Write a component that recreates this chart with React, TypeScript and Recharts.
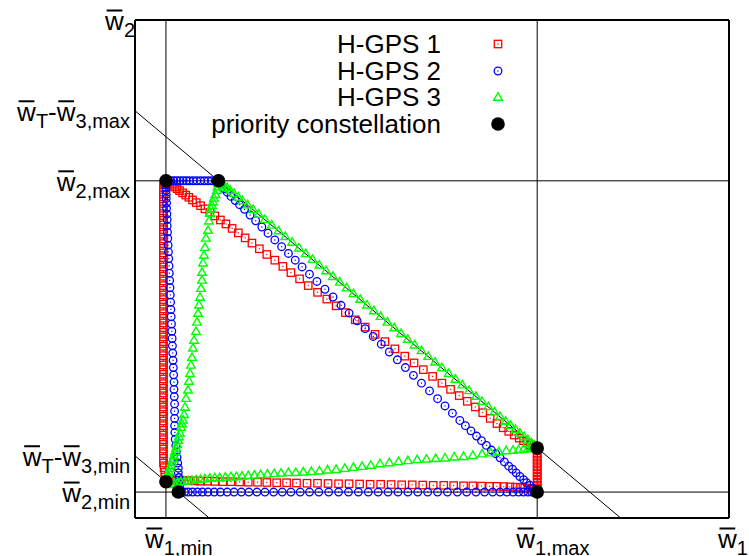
import React from 'react';
import { ScatterChart, Scatter, XAxis, YAxis, ReferenceLine, Legend } from 'recharts';

type Pt = [number, number];

const FONT = '"Liberation Sans", Arial, sans-serif';
const RED = '#ff0000';
const BLUE = '#0000ff';
const GREEN = '#00ff00';

const seriesNames = ['H-GPS 1', 'H-GPS 2', 'H-GPS 3', 'priority constellation'];

// axis ticks (gnuplot enhanced-text style labels, every w gets a bar)
const xTicks = [5, 65, 96];
const xTickLabels = ['w_{1,min}', 'w_{1,max}', 'w_1'];
const yTicks = [5, 12, 65, 78.5, 96];
const yTickLabels = ['w_{2,min}', 'w_T-w_{3,min}', 'w_{2,max}', 'w_T-w_{3,max}', 'w_2'];

// box limits and the two sum constraints
const w1Min = 5;
const w1Max = 65;
const w2Min = 5;
const w2Max = 65;
const sumLow = 12;
const sumHigh = 78.5;

// priority constellation corners
const priorityX = [5, 13.5, 65, 65, 7, 5];
const priorityY = [65, 65, 13.5, 5, 5, 7];

// H-GPS 1 (red squares)
const gps1Diagonal: Pt[] = [
  [5, 65], [5.3, 64.74], [5.6, 64.49], [6, 64.14], [6.4, 63.8], [6.8, 63.46], [7.2, 63.11], [7.7, 62.68],
  [8.2, 62.25], [8.7, 61.83], [9.3, 61.31], [9.9, 60.8], [10.6, 60.2], [11.3, 59.59], [12.1, 58.91],
  [12.9, 58.22], [13.8, 57.45], [14.7, 56.68], [15.7, 55.82], [16.7, 54.96], [17.8, 54.0], [18.9, 53.0],
  [20.1, 51.9], [21.3, 50.8], [22.6, 49.7], [23.9, 48.5], [25.2, 47.3], [26.6, 46.1], [28.0, 44.8],
  [29.5, 43.5], [31.0, 42.2], [32.5, 40.9], [34.0, 39.6], [35.6, 38.2], [37.2, 36.8], [38.8, 35.4],
  [40.4, 34.0], [42.0, 32.6], [43.6, 31.2], [45.1, 29.9], [46.6, 28.6], [48.1, 27.3], [49.6, 26.0],
  [51.0, 24.8], [52.4, 23.6], [53.7, 22.5], [55.0, 21.4], [56.2, 20.3], [57.4, 19.2], [58.5, 18.2],
  [59.5, 17.4], [60.4, 16.7], [61.3, 16.0], [62.1, 15.4], [62.8, 14.9], [63.4, 14.5], [63.9, 14.1],
  [64.3, 13.9], [64.6, 13.7], [64.8, 13.6],
];
const gps1Right: Pt[] = [
  [65, 13.5], [65, 12.9], [65, 12.3], [65, 11.7], [65, 11.1], [65, 10.5], [65, 9.9], [65, 9.3],
  [65, 8.7], [65, 8.1], [65, 7.5], [65, 6.9], [65, 6.3], [65, 5.7], [65, 5.2],
];
const gps1Bottom: Pt[] = [
  [64.8, 5.3], [64.5, 5.5], [64.1, 5.6], [63.6, 5.7], [63.0, 5.8], [62.3, 5.9], [61.5, 5.95], [60.6, 6.0],
  [59.6, 6.05], [58.5, 6.1], [57.3, 6.1], [56.0, 6.15], [54.6, 6.2], [53.1, 6.2], [51.5, 6.25], [49.9, 6.3],
  [48.2, 6.3], [46.5, 6.35], [44.8, 6.4], [43.1, 6.4], [41.4, 6.45], [39.7, 6.5], [38.0, 6.5], [36.3, 6.55],
  [34.6, 6.6], [32.9, 6.6], [31.2, 6.65], [29.5, 6.7], [27.8, 6.7], [26.1, 6.75], [24.5, 6.8], [22.9, 6.8],
  [21.3, 6.85], [19.8, 6.9], [18.3, 6.9], [16.9, 6.95], [15.5, 7.0], [14.2, 7.0], [12.9, 7.05], [11.7, 7.1],
  [10.6, 7.1], [9.6, 7.15], [8.7, 7.2], [7.9, 7.2], [7.2, 7.25], [6.6, 7.3], [6.1, 7.3], [5.7, 7.35], [5.4, 7.4],
];
const gps1Left: Pt[] = [
  [4.9, 7.9], [4.8, 8.8], [4.7, 9.7], [4.6, 10.6], [4.6, 11.5], [4.6, 12.4], [4.6, 13.3], [4.6, 14.2],
  [4.6, 15.1], [4.6, 16.0], [4.6, 16.9], [4.6, 17.8], [4.6, 18.7], [4.6, 19.6], [4.6, 20.5], [4.6, 21.4],
  [4.6, 22.3], [4.6, 23.2], [4.6, 24.1], [4.6, 25.0], [4.6, 25.9], [4.6, 26.8], [4.6, 27.7], [4.6, 28.6],
  [4.6, 29.5], [4.6, 30.4], [4.6, 31.3], [4.6, 32.2], [4.6, 33.1], [4.6, 34.0], [4.6, 34.9], [4.6, 35.8],
  [4.6, 36.7], [4.6, 37.6], [4.6, 38.5], [4.6, 39.4], [4.6, 40.3], [4.6, 41.2], [4.6, 42.1], [4.6, 43.0],
  [4.6, 43.9], [4.6, 44.8], [4.6, 45.7], [4.6, 46.6], [4.6, 47.5], [4.6, 48.4], [4.6, 49.3], [4.6, 50.2],
  [4.6, 51.1], [4.6, 52.0], [4.6, 52.9], [4.6, 53.8], [4.6, 54.7], [4.6, 55.6], [4.6, 56.5], [4.6, 57.4],
  [4.6, 58.3], [4.6, 59.2], [4.6, 60.1], [4.6, 61.0], [4.6, 61.9], [4.6, 62.8], [4.6, 63.7], [4.7, 64.5],
];

// H-GPS 2 (blue circles)
const gps2Top: Pt[] = [
  [5, 65], [5.4, 65], [5.8, 65], [6.3, 65], [6.8, 65], [7.3, 65], [7.8, 65], [8.3, 65], [8.8, 65],
  [9.4, 65], [10, 65], [10.6, 65], [11.2, 65], [11.8, 65], [12.4, 65], [13, 65], [13.5, 65],
];
const gps2Diagonal: Pt[] = [
  [13.9, 64.3], [14.4, 63.5], [14.9, 62.8], [15.5, 62.0], [16.2, 61.2], [16.9, 60.4], [17.7, 59.5],
  [18.6, 58.4], [19.5, 57.3], [20.5, 56.1], [21.5, 54.9], [22.6, 53.6], [23.7, 52.3], [24.8, 51.0],
  [25.9, 49.7], [27.0, 48.4], [28.2, 47.0], [29.4, 45.6], [30.7, 44.1], [32.0, 42.6], [33.3, 41.0],
  [34.6, 39.5], [35.9, 38.0], [37.2, 36.5], [38.5, 35.0], [39.8, 33.5], [41.1, 32.0], [42.4, 30.5],
  [43.7, 29.0], [45.0, 27.5], [46.3, 26.0], [47.6, 24.5], [48.9, 23.0], [50.1, 21.6], [51.3, 20.2],
  [52.5, 18.8], [53.4, 17.8], [54.3, 16.8], [55.2, 15.8], [56.0, 14.9], [56.8, 14.0], [57.6, 13.1],
  [58.3, 12.4], [59.0, 11.6], [59.7, 10.8], [60.4, 10.0], [61.0, 9.4], [61.6, 8.7], [62.2, 8.0],
  [62.8, 7.4], [63.3, 6.8], [63.8, 6.3], [64.3, 5.7], [64.7, 5.3],
];
const gps2Bottom: Pt[] = [
  [65, 5], [64.6, 5], [64.1, 5], [63.5, 5], [62.8, 5], [62.0, 5], [61.1, 5], [60.1, 5], [59.0, 5], [57.8, 5],
  [56.5, 5], [55.1, 5], [53.6, 5], [52.1, 5], [50.5, 5], [48.9, 5], [47.3, 5], [45.7, 5], [44.1, 5],
  [42.5, 5], [40.9, 5], [39.3, 5], [37.7, 5], [36.1, 5], [34.5, 5], [32.9, 5], [31.3, 5], [29.7, 5],
  [28.2, 5], [26.7, 5], [25.2, 5], [23.8, 5], [22.4, 5], [21.0, 5], [19.7, 5], [18.4, 5], [17.2, 5],
  [16.0, 5], [14.9, 5], [13.8, 5], [12.8, 5], [11.8, 5], [10.9, 5], [10.1, 5], [9.3, 5], [8.6, 5],
  [8.0, 5], [7.5, 5],
];
const gps2Left: Pt[] = [
  [7.2, 5.5], [7.2, 6.2], [7.1, 7.0], [7.1, 7.8], [7.0, 8.7], [7.0, 9.6], [6.9, 10.6], [6.8, 11.7],
  [6.7, 12.8], [6.6, 14.0], [6.5, 15.2], [6.45, 16.5], [6.4, 17.8], [6.4, 19.2], [6.4, 20.6], [6.4, 22.0],
  [6.35, 23.4], [6.3, 24.8], [6.3, 26.2], [6.25, 27.6], [6.2, 29.0], [6.15, 30.4], [6.1, 31.8],
  [6.05, 33.2], [6.0, 34.6], [5.95, 36.0], [5.9, 37.4], [5.85, 38.8], [5.8, 40.2], [5.75, 41.6],
  [5.7, 43.0], [5.65, 44.4], [5.6, 45.8], [5.55, 47.2], [5.5, 48.6], [5.45, 50.0], [5.4, 51.3],
  [5.35, 52.6], [5.3, 53.9], [5.25, 55.1], [5.2, 56.3], [5.2, 57.5], [5.15, 58.6], [5.1, 59.7],
  [5.1, 60.7], [5.05, 61.6], [5.05, 62.4], [5.0, 63.1], [5.0, 63.7], [5.0, 64.2], [5.0, 64.6],
];

// H-GPS 3 (green triangles)
const gps3Curve: Pt[] = [
  [13.5, 65], [13.45, 64.5], [13.35, 63.9], [13.25, 63.2], [13.0, 62.4], [12.77, 61.7], [12.6, 61.0],
  [12.44, 60.3], [12.3, 59.6], [12.12, 58.8], [11.96, 57.3], [11.8, 55.5], [11.47, 54.0], [11.31, 52.2],
  [11.15, 50.7], [10.99, 49.2], [10.83, 47.4], [10.83, 45.9], [10.67, 44.3], [10.51, 42.6], [10.34, 41.1],
  [10.18, 39.5], [10.02, 37.8], [9.86, 36.0], [9.54, 34.3], [9.37, 32.8], [9.21, 31.0], [9.05, 29.5],
  [8.89, 27.9], [8.73, 26.4], [8.57, 24.7], [8.24, 23.1], [8.08, 21.4], [7.92, 20.0], [7.76, 18.9],
  [7.6, 18.2], [7.43, 17.5], [7.27, 16.4], [7.1, 15.7], [6.95, 15.0], [6.8, 14.2], [6.63, 13.5],
  [6.46, 12.8], [6.3, 12.1], [6.14, 11.4], [5.98, 10.8], [5.82, 10.2], [5.66, 9.6], [5.5, 9.0],
  [5.33, 8.5], [5.25, 8.1], [5.17, 7.7], [5.1, 7.3],
];
const gps3Bottom: Pt[] = [
  [6.0, 6.5], [6.4, 6.7], [6.9, 6.9], [7.4, 7.0], [8.0, 7.1], [8.6, 7.2], [9.2, 7.3], [9.9, 7.4],
  [10.6, 7.5], [11.3, 7.6], [12.1, 7.7], [12.9, 7.8], [13.7, 7.8], [14.6, 7.9], [15.5, 8.0], [16.4, 8.0],
  [17.3, 8.1], [18.3, 8.2], [19.3, 8.3], [20.3, 8.4], [21.4, 8.5], [22.5, 8.6], [23.6, 8.7], [24.8, 8.8],
  [26.0, 8.8], [27.2, 8.9], [28.5, 9.0], [29.8, 9.1], [31.1, 9.3], [32.5, 9.4], [33.9, 9.6], [35.3, 9.8],
  [36.7, 10.0], [38.1, 10.2], [39.6, 10.5], [41.1, 10.7], [42.6, 10.9], [44.1, 11.1], [45.6, 11.3],
  [47.1, 11.4], [48.6, 11.5], [50.1, 11.6], [51.6, 11.8], [53.1, 11.9], [54.6, 12.1], [56.1, 12.4],
  [57.5, 12.6], [58.8, 12.8], [60.0, 13.0], [61.1, 13.1], [62.0, 13.2], [62.8, 13.3], [63.5, 13.4],
  [64.1, 13.5], [64.6, 13.6],
];
const gps3Diagonal: Pt[] = [
  [64.6, 14.0], [64.1, 14.5], [63.5, 15.1], [62.9, 15.7], [62.2, 16.4], [61.5, 17.1], [60.7, 17.9],
  [59.9, 18.7], [59.0, 19.6], [58.1, 20.5], [57.1, 21.5], [56.1, 22.5], [55.1, 23.5], [54.0, 24.6],
  [52.9, 25.7], [51.8, 26.8], [50.7, 27.9], [49.6, 29.0], [48.5, 30.1], [47.4, 31.2], [46.3, 32.3],
  [45.2, 33.4], [44.1, 34.5], [43.0, 35.6], [41.9, 36.7], [40.8, 37.8], [39.7, 38.9], [38.6, 40.0],
  [37.5, 41.1], [36.4, 42.2], [35.3, 43.3], [34.2, 44.4], [33.1, 45.5], [32.0, 46.6], [30.9, 47.7],
  [29.8, 48.8], [28.7, 49.9], [27.6, 51.0], [26.5, 52.1], [25.4, 53.2], [24.3, 54.3], [23.2, 55.4],
  [22.1, 56.5], [21.0, 57.6], [20.0, 58.6], [19.1, 59.5], [18.2, 60.4], [17.4, 61.2], [16.7, 61.9],
  [16.0, 62.6], [15.4, 63.2], [14.9, 63.7], [14.4, 64.2], [14.0, 64.6],
];

const toPoints = (...segs: Pt[][]) => segs.flat().map(([x, y]) => ({ x, y }));

const gps1Data = toPoints(gps1Diagonal, gps1Right, gps1Bottom, gps1Left);
const gps2Data = toPoints(gps2Top, gps2Diagonal, gps2Bottom, gps2Left);
const gps3Data = toPoints(gps3Curve, gps3Bottom, gps3Diagonal);
const priorityData = priorityX.map((x, i) => ({ x, y: priorityY[i] }));

const AXIS_MAX = 96;

// --- markers ---
const drawMarker = (kind: number, cx: number, cy: number) => {
  if (kind === 0) {
    return (
      <g>
        <rect x={cx - 3.7} y={cy - 3.7} width={7.4} height={7.4} fill="none" stroke={RED} strokeWidth={1.3} />
        <rect x={cx - 0.6} y={cy - 0.6} width={1.2} height={1.2} fill={RED} />
      </g>
    );
  }
  if (kind === 1) {
    return (
      <g>
        <circle cx={cx} cy={cy} r={3.8} fill="none" stroke={BLUE} strokeWidth={1.3} />
        <rect x={cx - 0.6} y={cy - 0.6} width={1.2} height={1.2} fill={BLUE} />
      </g>
    );
  }
  if (kind === 2) {
    return (
      <polygon
        points={`${cx},${cy - 4.3} ${cx + 4.3},${cy + 3.2} ${cx - 4.3},${cy + 3.2}`}
        fill="none"
        stroke={GREEN}
        strokeWidth={1.4}
      />
    );
  }
  return <circle cx={cx} cy={cy} r={6.8} fill="#000" />;
};

// --- tick labels ---
const MAIN = 26;
const SUB = 20;
const CHAR_W: Record<string, number> = {
  w: 0.722, T: 0.611, '-': 0.333, '1': 0.556, '2': 0.556, '3': 0.556,
  ',': 0.278, m: 0.833, a: 0.556, x: 0.5, i: 0.222, n: 0.556,
};

interface Part { t: string; sub?: boolean; bar?: boolean }

const parseLabel = (s: string): Part[] => {
  const parts: Part[] = [];
  let i = 0;
  while (i < s.length) {
    const c = s[i];
    if (c === '_') {
      if (s[i + 1] === '{') {
        const j = s.indexOf('}', i);
        parts.push({ t: s.slice(i + 2, j), sub: true });
        i = j + 1;
      } else {
        parts.push({ t: s[i + 1], sub: true });
        i += 2;
      }
    } else if (c === 'w') {
      parts.push({ t: 'w', bar: true });
      i++;
    } else {
      parts.push({ t: c });
      i++;
    }
  }
  return parts;
};

const textWidth = (p: Part) =>
  p.t.split('').reduce((s, c) => s + (CHAR_W[c] ?? 0.556), 0) * (p.sub ? SUB : MAIN);

const LabelParts = ({ parts, x, baseline }: { parts: Part[]; x: number; baseline: number }) => {
  let cx = x;
  return (
    <g fontFamily={FONT} fill="#000">
      {parts.map((p, i) => {
        const w = textWidth(p);
        const left = cx;
        cx += w;
        return (
          <g key={i}>
            <text x={left} y={baseline + (p.sub ? 7 : 0)} fontSize={p.sub ? SUB : MAIN} textAnchor="start">
              {p.t}
            </text>
            {p.bar && (
              <line x1={left + 1.5} x2={left + w - 1.5} y1={baseline - 19.5} y2={baseline - 19.5} stroke="#000" strokeWidth={2} />
            )}
          </g>
        );
      })}
    </g>
  );
};

const YTick = (props: any) => {
  const { x, y, payload } = props;
  const idx = yTicks.indexOf(payload.value);
  if (idx < 0) return null;
  const parts = parseLabel(yTickLabels[idx]);
  const total = parts.reduce((s, p) => s + textWidth(p), 0);
  const right = idx === yTicks.length - 1 ? x + 5 : x;
  return <LabelParts parts={parts} x={right - total} baseline={y + 10} />;
};

const XTick = (props: any) => {
  const { x, y, payload } = props;
  const idx = xTicks.indexOf(payload.value);
  if (idx < 0) return null;
  const parts = parseLabel(xTickLabels[idx]);
  const left = idx === xTicks.length - 1 ? x - 11 : x - 21;
  return <LabelParts parts={parts} x={left} baseline={y + 30} />;
};

const LegendContent = () => (
  <div style={{ fontFamily: FONT, fontSize: MAIN, color: '#000' }}>
    {seriesNames.map((name, i) => (
      <div key={name} style={{ position: 'relative', height: 26.5, lineHeight: '26.5px' }}>
        <span style={{ position: 'absolute', right: 79, whiteSpace: 'nowrap' }}>{name}</span>
        <svg style={{ position: 'absolute', left: 298, top: 3 }} width={20} height={20}>
          {drawMarker(i, 10, 10)}
        </svg>
      </div>
    ))}
  </div>
);

export default function App() {
  return (
    <div style={{ position: 'absolute', left: 0, top: 0, width: 749, height: 556, background: '#fff', fontFamily: FONT }}>
      <ScatterChart width={749} height={556} margin={{ top: 20, right: 20, bottom: 0, left: 0 }}>
        <XAxis
          type="number"
          dataKey="x"
          domain={[0, AXIS_MAX]}
          ticks={xTicks}
          interval={0}
          tick={<XTick />}
          tickLine={false}
          tickSize={0}
          tickMargin={0}
          height={38}
          axisLine={{ stroke: '#000', strokeWidth: 2 }}
        />
        <YAxis
          type="number"
          dataKey="y"
          domain={[0, AXIS_MAX]}
          ticks={yTicks}
          interval={0}
          tick={<YTick />}
          tickLine={false}
          tickSize={5}
          tickMargin={0}
          width={135}
          axisLine={{ stroke: '#000', strokeWidth: 2 }}
        />
        <ReferenceLine x={w1Min} stroke="#000" strokeWidth={1} />
        <ReferenceLine x={w1Max} stroke="#000" strokeWidth={1} />
        <ReferenceLine y={w2Min} stroke="#000" strokeWidth={1} />
        <ReferenceLine y={w2Max} stroke="#000" strokeWidth={1} />
        <ReferenceLine segment={[{ x: 0, y: sumHigh }, { x: sumHigh, y: 0 }]} stroke="#000" strokeWidth={1} />
        <ReferenceLine segment={[{ x: 0, y: sumLow }, { x: sumLow, y: 0 }]} stroke="#000" strokeWidth={1} />
        <ReferenceLine x={AXIS_MAX} stroke="#000" strokeWidth={2} />
        <ReferenceLine y={AXIS_MAX} stroke="#000" strokeWidth={2} />
        <Scatter name={seriesNames[0]} data={gps1Data} shape={(p: any) => drawMarker(0, p.cx, p.cy)} isAnimationActive={false} />
        <Scatter name={seriesNames[1]} data={gps2Data} shape={(p: any) => drawMarker(1, p.cx, p.cy)} isAnimationActive={false} />
        <Scatter name={seriesNames[2]} data={gps3Data} shape={(p: any) => drawMarker(2, p.cx, p.cy)} isAnimationActive={false} />
        <Scatter name={seriesNames[3]} data={priorityData} shape={(p: any) => drawMarker(3, p.cx, p.cy)} isAnimationActive={false} />
        <Legend
          layout="vertical"
          align="center"
          verticalAlign="middle"
          content={<LegendContent />}
          wrapperStyle={{ left: 190, top: 31, width: 330 }}
        />
      </ScatterChart>
    </div>
  );
}
